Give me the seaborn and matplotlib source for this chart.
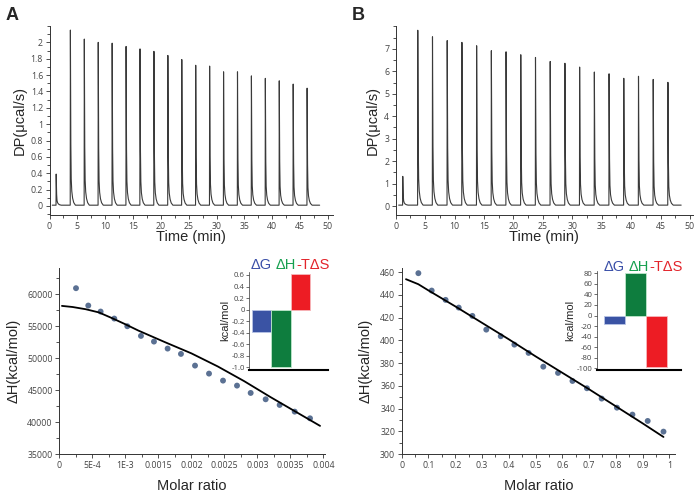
import numpy as np
import pandas as pd
import matplotlib
matplotlib.use('Agg')
import matplotlib.pyplot as plt
from matplotlib.ticker import MultipleLocator
import seaborn as sns

# ---------------- data ----------------
inj_time = [1.2, 3.75, 6.25, 8.75, 11.25, 13.75, 16.25, 18.75, 21.25, 23.75,
            26.25, 28.75, 31.25, 33.75, 36.25, 38.75, 41.25, 43.75, 46.25]
peak_A = [0.38, 2.14, 2.03, 1.99, 1.98, 1.94, 1.91, 1.88, 1.83, 1.78,
          1.71, 1.70, 1.63, 1.63, 1.58, 1.55, 1.52, 1.48, 1.43]
peak_B = [1.28, 7.79, 7.50, 7.33, 7.25, 7.10, 6.88, 6.83, 6.70, 6.58,
          6.40, 6.32, 6.15, 5.93, 5.85, 5.65, 5.74, 5.60, 5.47]
# shape of one injection peak (time offset in min, fraction of the height)
peak_dt = [-0.03, 0.0, 0.08, 0.15, 0.25, 0.4, 0.6, 0.9]
peak_frac = [0.0, 1.0, 0.35, 0.15, 0.08, 0.04, 0.015, 0.0]

ratio_A = [0.000253, 0.000439, 0.000626, 0.000833, 0.00103, 0.001237, 0.001434,
           0.001641, 0.001843, 0.002056, 0.002268, 0.00248, 0.002692, 0.002899,
           0.003126, 0.003338, 0.003566, 0.003798]
dH_A = [60940, 58225, 57286, 56190, 54990, 53476, 52589, 51493, 50658, 48831,
        47578, 46482, 45700, 44551, 43559, 42672, 41628, 40585]
fit_x_A = [0.00004, 0.0002, 0.0004, 0.0006, 0.0008, 0.001, 0.0012, 0.0016,
           0.002, 0.0024, 0.0028, 0.0032, 0.0036, 0.00395]
fit_y_A = [58170, 58000, 57650, 57150, 56250, 55300, 54300, 52500, 50750,
           48700, 46400, 43900, 41500, 39400]

ratio_B = [0.0623, 0.112, 0.164, 0.213, 0.264, 0.316, 0.370, 0.421, 0.474,
           0.529, 0.584, 0.638, 0.692, 0.747, 0.804, 0.862, 0.919, 0.978]
dH_B = [459.2, 443.9, 435.7, 428.9, 421.6, 409.5, 403.7, 396.3, 389.0, 376.9,
        371.4, 364.3, 357.9, 348.8, 340.8, 334.7, 329.1, 319.7]
fit_x_B = [0.016, 0.062, 0.1, 0.2, 0.3, 0.4, 0.5, 0.6, 0.7, 0.8, 0.9, 0.978]
fit_y_B = [453.9, 449.5, 444.0, 430.0, 415.5, 401.0, 386.0, 371.5, 357.0,
           342.0, 327.0, 315.0]

terms = ['ΔG', 'ΔH', '-TΔS']
thermo_A = [-0.39, -1.0, 0.62]
thermo_B = [-16, 80, -98]
term_colors = ['#3a53a4', '#0e7d3e', '#ed1c24']
title_colors = ['#3a4fa8', '#16a04f', '#e3242b']

xticks_A = [0, 0.0005, 0.001, 0.0015, 0.002, 0.0025, 0.003, 0.0035, 0.004]
xlabels_A = ['0', '5E-4', '1E-3', '0.0015', '0.002', '0.0025', '0.003', '0.0035', '0.004']

W, H = 699, 500
sns.set_style('ticks')
plt.rcParams['font.family'] = ['Liberation Sans', 'DejaVu Sans']

fig = plt.figure(figsize=(W / 100, H / 100), dpi=100)


def ax_px(x0, y0, x1, y1):
    # axes from pixel box (left, top, right, bottom)
    return fig.add_axes([x0 / W, 1 - y1 / H, (x1 - x0) / W, (y1 - y0) / H])


TICK_C = '#444444'


def style(ax, fs=6.3):
    sns.despine(ax=ax)
    for s in ['left', 'bottom']:
        ax.spines[s].set_linewidth(0.7)
        ax.spines[s].set_color('#333333')
    ax.tick_params(which='major', length=3.2, width=0.6, color='#333333',
                   labelsize=fs, labelcolor=TICK_C, pad=1.5)
    ax.tick_params(which='minor', length=2.0, width=0.6, color='#333333')
    for lab in ax.get_xticklabels() + ax.get_yticklabels():
        lab.set_family(['Open Sans', 'DejaVu Sans'])


def trace(times, heights, base):
    t, y = [0.5], [base]
    for t0, h in zip(times, heights):
        for dt, f in zip(peak_dt, peak_frac):
            t.append(t0 + dt)
            y.append(base + h * f)
    t.append(48.5)
    y.append(base)
    return pd.DataFrame({'t': t, 'y': y})


# ---------------- top panels: thermograms ----------------
for x0, x1, x50, peaks, base, ylim, lab in [
        (49.5, 333, 328, peak_A, 0.01, (-0.11, 2.2), 'A'),
        (395.7, 693, 690, peak_B, 0.04, (-0.40, 8.02), 'B')]:
    ax = ax_px(x0, 26, x1, 215)
    df = trace(inj_time, peaks, base)
    sns.lineplot(data=df, x='t', y='y', sort=False, estimator=None,
                 color='#3a3a3a', lw=0.8, ax=ax)
    ax.set_xlim(0, 50 * (x1 - x0) / (x50 - x0))
    ax.set_ylim(*ylim)
    ax.set_xticks(range(0, 51, 5))
    ax.xaxis.set_minor_locator(MultipleLocator(2.5))
    if lab == 'A':
        ax.set_yticks(np.arange(0, 2.01, 0.2))
        ax.set_yticklabels(['0', '0.2', '0.4', '0.6', '0.8', '1', '1.2', '1.4', '1.6', '1.8', '2'])
        ax.yaxis.set_minor_locator(MultipleLocator(0.1))
    else:
        ax.set_yticks(range(0, 8))
        ax.yaxis.set_minor_locator(MultipleLocator(0.5))
    style(ax)
    ax.set_xlabel('Time (min)', fontsize=10.5, labelpad=-0.5)
    ax.set_ylabel('DP(μcal/s)', fontsize=10.5, labelpad=3)
    fig.text((x0 - 44) / W, 1 - 16 / H, lab,
             fontsize=13, fontweight='bold', va='center', ha='left')

# ---------------- bottom panels: binding isotherms ----------------
pt_color = '#5b7193'

axA = ax_px(59.3, 268, 325, 454)
sns.scatterplot(x=ratio_A, y=dH_A, color=pt_color, s=18, edgecolor='none', ax=axA)
sns.lineplot(x=fit_x_A, y=fit_y_A, sort=False, color='black', lw=1.3, ax=axA)
axA.set_xlim(0, 0.004025)
axA.set_ylim(35000, 64100)
axA.set_xticks(xticks_A)
axA.set_xticklabels(xlabels_A)
axA.xaxis.set_minor_locator(MultipleLocator(0.00025))
axA.set_yticks(range(35000, 60001, 5000))
axA.yaxis.set_minor_locator(MultipleLocator(2500))
style(axA)
axA.set_xlabel('Molar ratio', fontsize=10.5, labelpad=6.5)
axA.set_ylabel('ΔH(kcal/mol)', fontsize=10.5, labelpad=5)

axB = ax_px(401.7, 268.3, 675, 454)
sns.scatterplot(x=ratio_B, y=dH_B, color=pt_color, s=18, edgecolor='none', ax=axB)
sns.lineplot(x=fit_x_B, y=fit_y_B, sort=False, color='black', lw=1.3, ax=axB)
axB.set_xlim(0, 1.021)
axB.set_ylim(300, 463.5)
axB.set_xticks(np.round(np.arange(0, 1.01, 0.1), 1))
axB.set_xticklabels(['0', '0.1', '0.2', '0.3', '0.4', '0.5', '0.6', '0.7', '0.8', '0.9', '1'])
axB.xaxis.set_minor_locator(MultipleLocator(0.05))
axB.set_yticks(range(300, 461, 20))
axB.yaxis.set_minor_locator(MultipleLocator(10))
style(axB)
axB.set_xlabel('Molar ratio', fontsize=10.5, labelpad=6.5)
axB.set_ylabel('ΔH(kcal/mol)', fontsize=10.5, labelpad=5)


# ---------------- insets: thermodynamic signature ----------------
def inset(box, vals, ylim, xlim, yticks, ylabels, title_x, title_y):
    ins = ax_px(*box)
    df = pd.DataFrame({'term': terms, 'val': vals})
    sns.barplot(data=df, x='term', y='val', hue='term', palette=term_colors,
                width=1.0, saturation=1, legend=False, ax=ins)
    for p, c in zip(ins.patches, ['#b8c4e6', '#bfe8cc', '#f7b8bb']):
        p.set_edgecolor(c)
        p.set_linewidth(0.6)
    ins.set_xlim(*xlim)
    ins.set_ylim(*ylim)
    ins.set_xticks([])
    ins.set_xlabel('')
    ins.set_yticks(yticks)
    ins.set_yticklabels(ylabels)
    style(ins, fs=5.6)
    ins.spines['bottom'].set_linewidth(1.5)
    ins.spines['bottom'].set_color('black')
    ins.spines['left'].set_linewidth(0.5)
    ins.tick_params(axis='y', length=2.2, width=0.5, pad=1)
    ins.set_ylabel('kcal/mol', fontsize=8, labelpad=1)
    # coloured title, one piece after another
    fig.canvas.draw()
    r = fig.canvas.get_renderer()
    x = title_x
    for s, c, gap in zip(terms, title_colors, [3.5, 0, 0]):
        t = fig.text(x / W, 1 - title_y / H, s, color=c, fontsize=10.5,
                     va='center', ha='left')
        x += t.get_window_extent(r).width + gap
    return ins


inset((249.3, 271.5, 328, 370), thermo_A, (-1.047, 0.66), (-0.62, 3.42),
      [0.6, 0.4, 0.2, 0, -0.2, -0.4, -0.6, -0.8, -1.0],
      ['0.6', '0.4', '0.2', '0', '-0.2', '-0.4', '-0.6', '-0.8', '-1.0'], 251, 265)
inset((596.7, 270.7, 680.5, 370), thermo_B, (-103.2, 85), (-0.865, 3.16),
      list(range(80, -101, -20)),
      ['80', '60', '40', '20', '0', '-20', '-40', '-60', '-80', '-100'], 604, 267)

fig.savefig('out.png', dpi=100)
